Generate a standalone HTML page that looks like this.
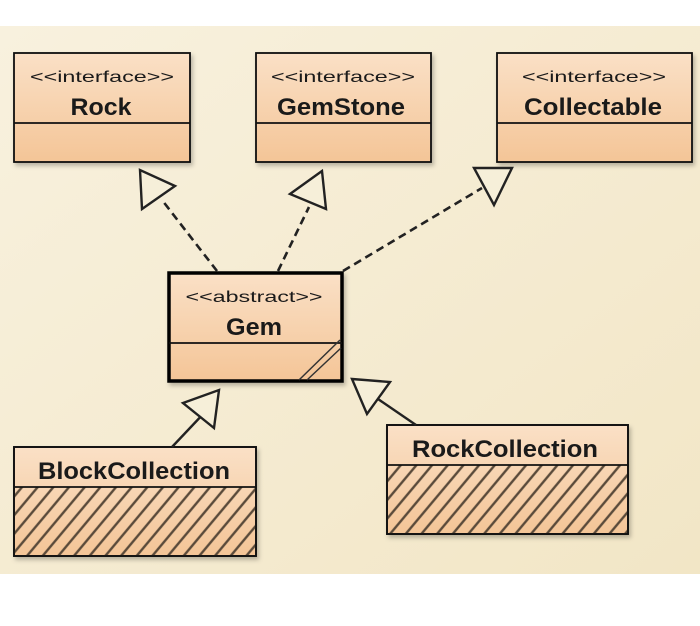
<!DOCTYPE html>
<html><head><meta charset="utf-8"><style>html,body{margin:0;padding:0;background:#fff}svg{display:block}</style></head>
<body>
<svg width="700" height="626" viewBox="0 0 700 626" xmlns="http://www.w3.org/2000/svg" font-family="Liberation Sans, sans-serif">
<defs>
<linearGradient id="bg" x1="0" y1="0" x2="1" y2="1"><stop offset="0" stop-color="#f8f1de"/><stop offset="1" stop-color="#f2e6c6"/></linearGradient>
<linearGradient id="box" x1="0" y1="0" x2="0" y2="1"><stop offset="0" stop-color="#fae0c6"/><stop offset="1" stop-color="#f4c597"/></linearGradient>
<pattern id="hatch" patternUnits="userSpaceOnUse" width="12" height="12" patternTransform="rotate(40)">
<line x1="6" y1="0" x2="6" y2="12" stroke="#5a4a3a" stroke-width="2.4"/></pattern>
<filter id="sh" x="-10%" y="-10%" width="130%" height="130%"><feDropShadow dx="2" dy="3" stdDeviation="2" flood-color="#000" flood-opacity="0.25"/></filter>
</defs>
<rect x="0" y="26" width="700" height="548" fill="url(#bg)"/>
<g stroke="#111" stroke-width="1.8" fill="url(#box)">
<rect x="14" y="53" width="176" height="109" filter="url(#sh)"/><line x1="14" y1="123" x2="190" y2="123"/>
<rect x="256" y="53" width="175" height="109" filter="url(#sh)"/><line x1="256" y1="123" x2="431" y2="123"/>
<rect x="497" y="53" width="195" height="109" filter="url(#sh)"/><line x1="497" y1="123" x2="692" y2="123"/>
<rect x="14" y="447" width="242" height="109" filter="url(#sh)"/>
<rect x="14" y="487" width="242" height="69" fill="url(#hatch)" stroke="none"/>
<line x1="14" y1="487" x2="256" y2="487"/><rect x="14" y="447" width="242" height="109" fill="none"/>
<rect x="387" y="425" width="241" height="109" filter="url(#sh)"/>
<rect x="387" y="465" width="241" height="69" fill="url(#hatch)" stroke="none"/>
<line x1="387" y1="465" x2="628" y2="465"/><rect x="387" y="425" width="241" height="109" fill="none"/>
</g>
<rect x="169" y="273" width="173" height="108" fill="url(#box)" stroke="#000" stroke-width="3.5" filter="url(#sh)"/>
<line x1="169" y1="343" x2="342" y2="343" stroke="#111" stroke-width="1.8"/>
<line x1="299" y1="380" x2="340" y2="340" stroke="#333" stroke-width="1.5"/>
<line x1="307" y1="380" x2="341" y2="348" stroke="#333" stroke-width="1.5"/>
<g stroke="#222" stroke-width="2.6" fill="none" stroke-dasharray="8,5">
<line x1="217" y1="271" x2="162" y2="200"/>
<line x1="278" y1="271" x2="309" y2="207"/>
<line x1="343" y1="271" x2="482" y2="188"/>
</g>
<g stroke="#222" stroke-width="2.4" fill="#f6efd9">
<line x1="172" y1="447" x2="206" y2="411"/>
<line x1="416" y1="425" x2="378" y2="399"/>
<polygon points="140,170 142,209 175,186"/>
<polygon points="322,171 290,194 326,209"/>
<polygon points="474,168 512,168 494,205"/>
<polygon points="183,403 219,390 214,428"/>
<polygon points="352,379 390,382 367,414"/>
</g>
<g fill="#1a1a1a" text-anchor="middle">
<text x="102" y="82" font-size="16" textLength="144" lengthAdjust="spacingAndGlyphs">&lt;&lt;interface&gt;&gt;</text>
<text x="101" y="115" font-size="24" font-weight="bold" textLength="61" lengthAdjust="spacingAndGlyphs">Rock</text>
<text x="343" y="82" font-size="16" textLength="144" lengthAdjust="spacingAndGlyphs">&lt;&lt;interface&gt;&gt;</text>
<text x="341" y="115" font-size="24" font-weight="bold" textLength="128" lengthAdjust="spacingAndGlyphs">GemStone</text>
<text x="594" y="82" font-size="16" textLength="144" lengthAdjust="spacingAndGlyphs">&lt;&lt;interface&gt;&gt;</text>
<text x="593" y="115" font-size="24" font-weight="bold" textLength="138" lengthAdjust="spacingAndGlyphs">Collectable</text>
<text x="254" y="302" font-size="16" textLength="137" lengthAdjust="spacingAndGlyphs">&lt;&lt;abstract&gt;&gt;</text>
<text x="254" y="335" font-size="24" font-weight="bold" textLength="56" lengthAdjust="spacingAndGlyphs">Gem</text>
<text x="134" y="479" font-size="24" font-weight="bold" textLength="192" lengthAdjust="spacingAndGlyphs">BlockCollection</text>
<text x="505" y="457" font-size="24" font-weight="bold" textLength="186" lengthAdjust="spacingAndGlyphs">RockCollection</text>
</g>
</svg>
</body></html>
